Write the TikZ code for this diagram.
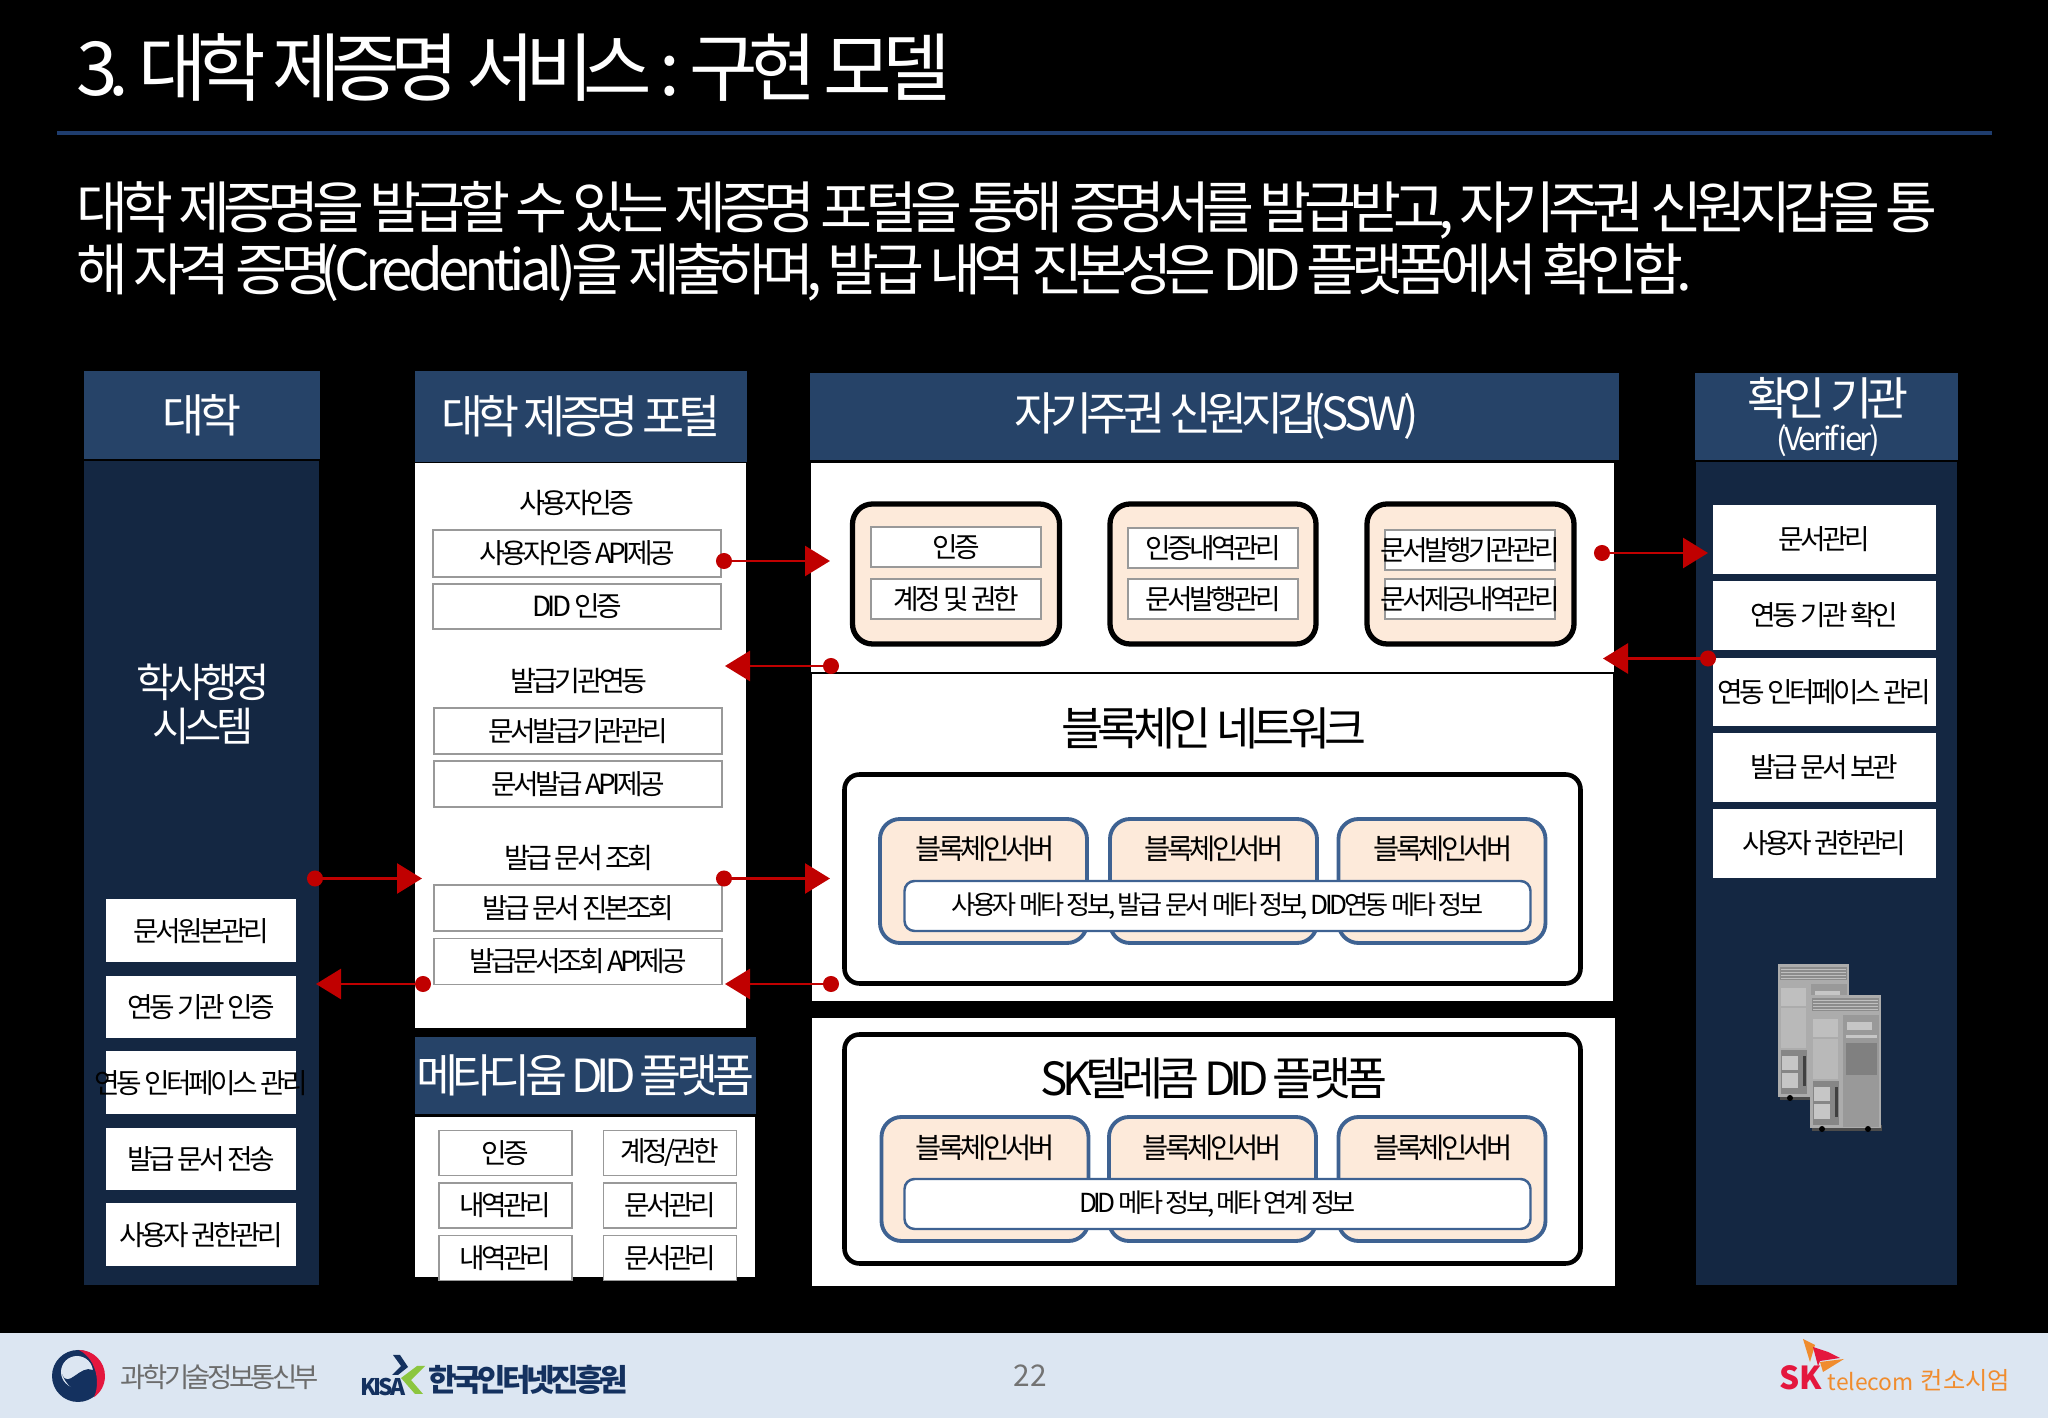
\documentclass[tikz,border=0pt]{standalone}
\usepackage{fontspec}
\setmainfont[LetterSpace=-13]{Noto Sans CJK KR}
\newfontfamily\plainkr{Noto Sans CJK KR}
\newfontfamily\latinkr[LetterSpace=-9]{Noto Sans CJK KR}
\usetikzlibrary{arrows.meta}
\definecolor{headblue}{HTML}{264368}
\definecolor{bodyblue}{HTML}{142742}
\definecolor{rulblue}{HTML}{1F3D6E}
\definecolor{peach}{HTML}{FDEADA}
\definecolor{servblue}{HTML}{3E6292}
\definecolor{linkred}{HTML}{C00000}
\definecolor{footbg}{HTML}{DCE6F2}
\definecolor{skred}{HTML}{E4173E}
\definecolor{skorange}{HTML}{F08C2E}
\definecolor{navy}{HTML}{14315F}
\definecolor{kisagreen}{HTML}{8CC63F}
\newcommand{\wide}[1]{\makebox[0pt]{#1}}
\newcommand{\lat}[1]{\kern-.2em{\latinkr #1}\kern-.1em}
\tikzset{
	fs/.style={font=\fontsize{#1}{12.5}\selectfont},
	sz/.style 2 args={minimum width=#1cm,minimum height=#2cm,inner sep=0pt},
	head/.style={fill=headblue,text=white,fs=13},
	body/.style={fill=bodyblue},
	sheet/.style={fill=white},
	plain/.style={text=white,inner sep=0pt},
	label/.style={text=black,inner sep=0pt},
	whitebox/.style={fill=white,text=black,fs=7.9},
	linebox/.style={fill=white,text=black,draw=gray!80,line width=.3pt,fs=7.9},
	bigbox/.style={draw=black,line width=1.5pt,fill=peach,rounded corners=.2cm},
	outerbox/.style={draw=black,line width=1.3pt,fill=white,rounded corners=.15cm},
	servbox/.style={draw=servblue,line width=1.1pt,fill=peach,rounded corners=.2cm},
	pill/.style={draw=servblue,line width=.7pt,fill=white,text=black,rounded corners=.1cm,fs=7.45},
	link/.style={draw=linkred,line width=.75pt,{Circle[length=.16cm,width=.16cm]}-{Triangle[length=.25cm,width=.3cm]},linkred},
	serverpic/.pic={
		\fill[black!70] (.02,-1.3) rectangle (.72,-1.36);
		\fill[gray!65] (0,0) rectangle (.71,-1.33);
		\fill[gray!90] (.02,-.03) rectangle (.69,-.16);
		\foreach \y in {-.05,-.08,-.11,-.14} \draw[gray!50,line width=.2pt] (.03,\y) -- (.68,\y);
		\fill[gray!50] (.03,-.24) rectangle (.28,-.42);
		\fill[gray!55] (.03,-.44) rectangle (.28,-.84);
		\fill[gray!95] (.03,-.86) rectangle (.29,-1.3);
		\fill[gray!45] (.04,-.92) rectangle (.2,-1.06);
		\fill[gray!45] (.04,-1.09) rectangle (.2,-1.24);
		\fill[black!75] (.25,-.92) rectangle (.28,-1.22);
		\fill[gray!80] (.33,-.2) rectangle (.69,-1.32);
		\fill[gray!45] (.37,-.27) rectangle (.62,-.35);
		\fill[gray!45] (.36,-.4) rectangle (.67,-.43);
		\fill[gray!100] (.36,-.48) rectangle (.67,-.8);
		\fill[black] (.12,-1.34) circle (.03) (.58,-1.34) circle (.03);
	},
}
\begin{document}
\begin{tikzpicture}
	\useasboundingbox (0,0) rectangle (20.48,-14.18);
	\fill[black] (0,0) rectangle (20.48,-14.18);
	% slide head
	\node[plain,anchor=west,fs=21.2] (T) at (.76,-.67) {3. 대학 제증명 서비스 : 구현 모델};
	\draw[rulblue,line width=1.2pt] (.57,-1.33) -- (19.92,-1.33);
	\node[plain,anchor=west,fs=16.05] (S1) at (.76,-2.1) {대학 제증명을 발급할 수 있는 제증명 포털을 통해 증명서를 발급받고, 자기주권 신원지갑을 통};
	\node[plain,anchor=west,fs=16.05] (S2) at (.76,-2.73) {해 자격 증명\lat{(Credential)}을 제출하며, 발급 내역 진본성은 DID 플랫폼에서 확인함.};
	% university
	\node[head,sz={2.36}{.88}] (UH) at (2.02,-4.15) {대학};
	\node[body,sz={2.35}{8.24}] (UB) at (2.015,-8.73) {};
	\node[plain,align=center,fs=11.5] (UT) at (2.03,-7.04) {학사행정\\시스템};
	\node[whitebox,sz={1.9}{.63}] (U1) at (2.01,-9.31) {문서원본관리};
	\node[whitebox,sz={1.9}{.62}] (U2) at (2.01,-10.07) {연동 기관 인증};
	\node[whitebox,sz={1.9}{.63}] (U3) at (2.01,-10.83) {\wide{연동 인터페이스 관리}};
	\node[whitebox,sz={1.9}{.62}] (U4) at (2.01,-11.59) {발급 문서 전송};
	\node[whitebox,sz={1.9}{.63}] (U5) at (2.01,-12.35) {사용자 권한관리};
	% portal
	\node[head,sz={3.32}{.91}] (PH) at (5.81,-4.165) {대학 제증명 포털};
	\node[sheet,sz={3.31}{5.65}] (PB) at (5.805,-7.455) {};
	\node[label,fs=8] (P0) at (5.77,-5.03) {사용자인증};
	\node[linebox,sz={2.88}{.47}] (P1) at (5.77,-5.535) {사용자인증 API제공};
	\node[linebox,sz={2.88}{.45}] (P2) at (5.77,-6.065) {DID 인증};
	\node[label,fs=8] (P3) at (5.79,-6.81) {발급기관연동};
	\node[linebox,sz={2.88}{.46}] (P4) at (5.78,-7.31) {문서발급기관관리};
	\node[linebox,sz={2.88}{.46}] (P5) at (5.78,-7.84) {문서발급 API제공};
	\node[label,fs=8] (P6) at (5.79,-8.58) {발급 문서 조회};
	\node[linebox,sz={2.88}{.46}] (P7) at (5.78,-9.08) {발급 문서 진본조회};
	\node[linebox,sz={2.88}{.46}] (P8) at (5.78,-9.615) {발급문서조회 API제공};
	% metadium
	\node[head,sz={3.405}{.77}] (MH) at (5.855,-10.755) {\wide{메타디움 DID 플랫폼}};
	\node[sheet,sz={3.4}{1.6}] (MB) at (5.85,-11.97) {};
	\node[linebox,sz={1.33}{.45}] (M1) at (5.055,-11.53) {인증};
	\node[linebox,sz={1.33}{.45}] (M2) at (6.7,-11.53) {계정/권한};
	\node[linebox,sz={1.33}{.45}] (M3) at (5.055,-12.055) {내역관리};
	\node[linebox,sz={1.33}{.45}] (M4) at (6.7,-12.055) {문서관리};
	\node[linebox,sz={1.33}{.45}] (M5) at (5.055,-12.58) {내역관리};
	\node[linebox,sz={1.33}{.45}] (M6) at (6.7,-12.58) {문서관리};
	% wallet
	\node[head,sz={8.09}{.875}] (WH) at (12.145,-4.165) {자기주권 신원지갑\lat{(SSW)}};
	\node[sheet,sz={8.03}{2.1}] (WB) at (12.125,-5.68) {};
	\node[bigbox,sz={2.07}{1.4}] (B1) at (9.56,-5.74) {};
	\node[bigbox,sz={2.06}{1.4}] (B2) at (12.13,-5.74) {};
	\node[bigbox,sz={2.07}{1.4}] (B3) at (14.705,-5.74) {};
	\node[linebox,sz={1.7}{.4}] (B11) at (9.56,-5.47) {인증};
	\node[linebox,sz={1.7}{.4}] (B12) at (9.56,-5.99) {계정 및 권한};
	\node[linebox,sz={1.7}{.4}] (B21) at (12.13,-5.48) {인증내역관리};
	\node[linebox,sz={1.7}{.4}] (B22) at (12.13,-5.99) {문서발행관리};
	\node[linebox,sz={1.7}{.4}] (B31) at (14.7,-5.5) {\wide{문서발행기관관리}};
	\node[linebox,sz={1.7}{.4}] (B32) at (14.7,-5.99) {\wide{문서제공내역관리}};
	% blockchain network
	\node[sheet,sz={8.03}{3.29},draw=black,line width=.4pt] (NB) at (12.125,-8.375) {};
	\node[label,fs=13] (NT) at (12.14,-7.28) {블록체인 네트워크};
	\node[outerbox,sz={7.36}{2.09}] (NO) at (12.125,-8.79) {};
	\node[servbox,sz={2.07}{1.24}] (N1) at (9.835,-8.81) {};
	\node[servbox,sz={2.07}{1.24}] (N2) at (12.135,-8.81) {};
	\node[servbox,sz={2.07}{1.24}] (N3) at (14.42,-8.81) {};
	\node[label,fs=8.1] (N1T) at (9.85,-8.49) {블록체인서버};
	\node[label,fs=8.1] (N2T) at (12.14,-8.49) {블록체인서버};
	\node[label,fs=8.1] (N3T) at (14.43,-8.49) {블록체인서버};
	\node[pill,sz={6.26}{.5}] (NP) at (12.175,-9.06) {사용자 메타 정보, 발급 문서 메타 정보, DID연동 메타 정보};
	% sk platform
	\node[sheet,sz={8.03}{2.68}] (KB) at (12.135,-11.52) {};
	\node[outerbox,sz={7.36}{2.29}] (KO) at (12.125,-11.49) {};
	\node[label,fs=13] (KT) at (12.14,-10.78) {SK텔레콤 DID 플랫폼};
	\node[servbox,sz={2.07}{1.24}] (K1) at (9.85,-11.79) {};
	\node[servbox,sz={2.07}{1.24}] (K2) at (12.125,-11.79) {};
	\node[servbox,sz={2.07}{1.24}] (K3) at (14.42,-11.79) {};
	\node[label,fs=8.1] (K1T) at (9.85,-11.48) {블록체인서버};
	\node[label,fs=8.1] (K2T) at (12.12,-11.48) {블록체인서버};
	\node[label,fs=8.1] (K3T) at (14.43,-11.48) {블록체인서버};
	\node[pill,sz={6.26}{.5}] (KP) at (12.175,-12.04) {DID 메타 정보, 메타 연계 정보};
	% verifier
	\node[head,sz={2.63}{.87}] (VH) at (18.265,-4.165) {};
	\node[plain,fs=13] (VT) at (18.28,-3.98) {확인 기관};
	\node[plain,font=\latinkr\fontsize{9}{11}\selectfont] (VS) at (18.28,-4.41) {(Verifier)};
	\node[body,sz={2.61}{8.23}] (VB) at (18.265,-8.735) {};
	\node[whitebox,sz={2.23}{.69}] (V1) at (18.245,-5.395) {문서관리};
	\node[whitebox,sz={2.23}{.69}] (V2) at (18.245,-6.155) {연동 기관 확인};
	\node[whitebox,sz={2.23}{.68}] (V3) at (18.245,-6.92) {연동 인터페이스 관리};
	\node[whitebox,sz={2.23}{.69}] (V4) at (18.245,-7.675) {발급 문서 보관};
	\node[whitebox,sz={2.23}{.69}] (V5) at (18.245,-8.435) {사용자 권한관리};
	\pic at (17.78,-9.64) {serverpic};
	\pic at (18.1,-9.95) {serverpic};
	% links
	\coordinate (A1) at (7.16,-5.61);
	\coordinate (A2) at (8.3,-5.61);
	\coordinate (C1) at (8.39,-6.66);
	\coordinate (C2) at (7.25,-6.66);
	\coordinate (D1) at (3.07,-8.785);
	\coordinate (D2) at (4.22,-8.785);
	\coordinate (E1) at (7.16,-8.785);
	\coordinate (E2) at (8.3,-8.785);
	\coordinate (F1) at (4.31,-9.84);
	\coordinate (F2) at (3.16,-9.84);
	\coordinate (G1) at (8.39,-9.84);
	\coordinate (G2) at (7.25,-9.84);
	\coordinate (H1) at (15.94,-5.53);
	\coordinate (H2) at (17.08,-5.53);
	\coordinate (I1) at (17.16,-6.585);
	\coordinate (I2) at (16.03,-6.585);
	\draw[link] (A1) -- (A2);
	\draw[link] (C1) -- (C2);
	\draw[link] (D1) -- (D2);
	\draw[link] (E1) -- (E2);
	\draw[link] (F1) -- (F2);
	\draw[link] (G1) -- (G2);
	\draw[link] (H1) -- (H2);
	\draw[link] (I1) -- (I2);
	% footer
	\fill[footbg] (0,-13.33) rectangle (20.48,-14.18);
	\fill[navy] (.78,-13.76) circle (.26);
	\fill[skred] (.79,-13.5) arc (90:-55:.26) .. controls (1,-13.85) and (.98,-13.6) .. (.79,-13.5);
	\fill[footbg] (.77,-13.72) circle (.16);
	\fill[navy] (.62,-13.74) .. controls (.68,-13.9) and (.8,-13.64) .. (.93,-13.7) -- (.93,-13.8) .. controls (.88,-13.95) and (.7,-13.95) .. cycle;
	\node[anchor=west,inner sep=0pt,text=gray!85!black,fs=7.8] (F3) at (1.2,-13.77) {과학기술정보통신부};
	\node[anchor=west,inner sep=0pt,text=navy,font=\fontsize{6.5}{8}\selectfont\bfseries] (F4) at (3.6,-13.87) {KISA};
	\fill[navy] (3.93,-13.55) -- (4,-13.55) -- (4.08,-13.67) -- (3.98,-13.75) -- (3.92,-13.75) -- (4.01,-13.66) -- cycle;
	\fill[kisagreen] (4.25,-13.66) -- (4.17,-13.66) -- (4.01,-13.78) -- (4.15,-13.94) -- (4.23,-13.94) -- (4.11,-13.8) -- cycle;
	\node[anchor=west,inner sep=0pt,text=navy,font=\fontsize{8.8}{10}\selectfont\bfseries] (F5) at (4.28,-13.8) {한국인터넷진흥원};
	\node[inner sep=0pt,text=gray!90!black,font=\plainkr\fontsize{8.5}{10}\selectfont] (F6) at (10.3,-13.76) {22};
	\fill[skorange] (18.03,-13.39) -- (18.15,-13.45) -- (18.1,-13.62) -- cycle;
	\fill[skorange] (18.44,-13.59) -- (18.2,-13.62) -- (18.23,-13.72) -- cycle;
	\fill[skred] (18.13,-13.47) -- (18.28,-13.52) -- (18.4,-13.58) -- (18.2,-13.61) -- (18.18,-13.66) -- cycle;
	\node[anchor=west,inner sep=0pt,text=skred,font=\plainkr\fontsize{9}{11}\selectfont\bfseries] (F7) at (17.79,-13.78) {SK};
	\node[anchor=west,inner sep=0pt,text=skorange,font=\plainkr\fontsize{6.5}{9}\selectfont] (F8) at (18.27,-13.82) {telecom};
	\node[anchor=west,inner sep=0pt,text=skorange,font=\plainkr\fontsize{6.9}{9}\selectfont] (F9) at (19.2,-13.8) {컨소시엄};
\end{tikzpicture}
\end{document}
